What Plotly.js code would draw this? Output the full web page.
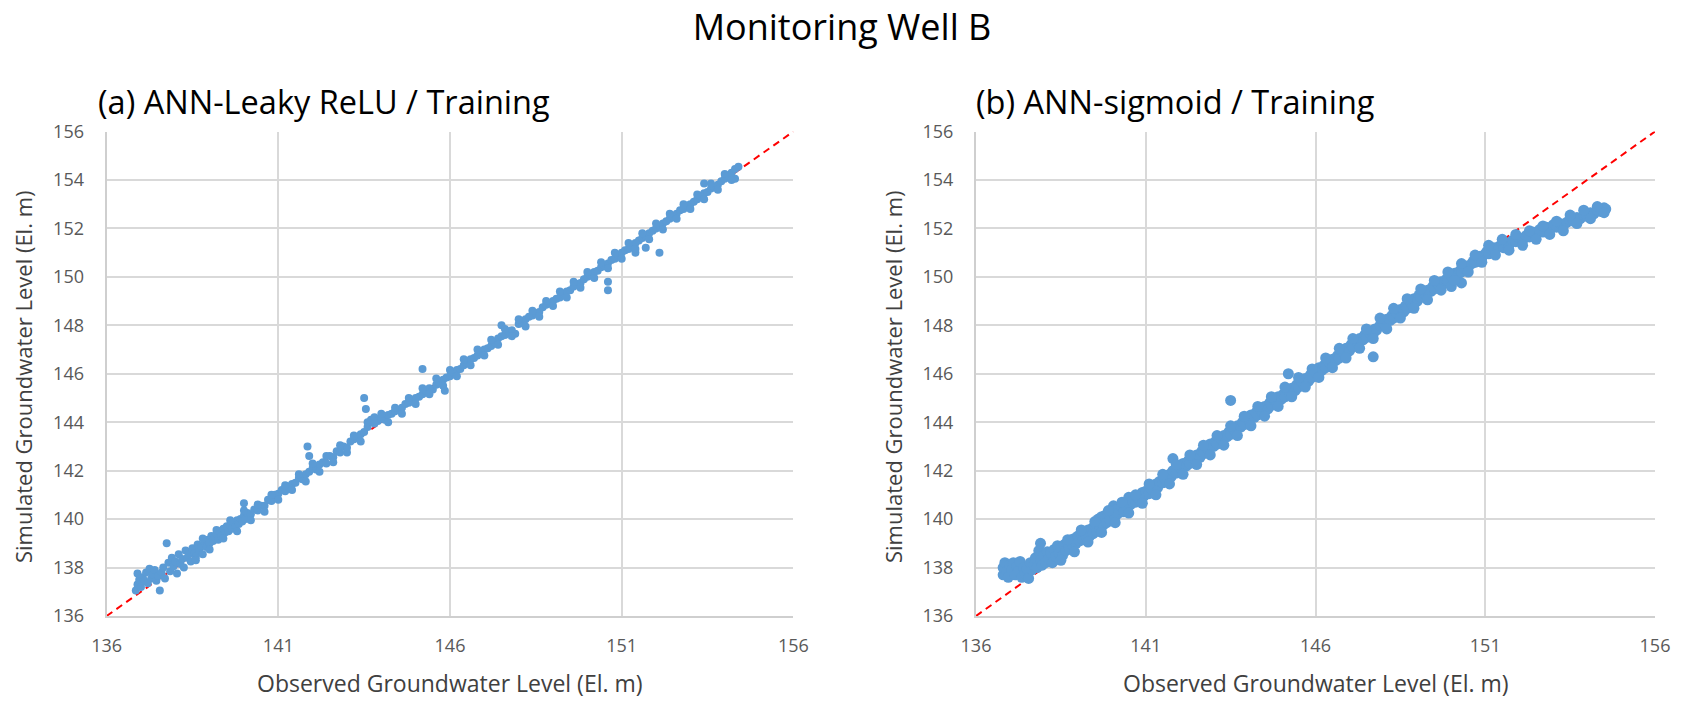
<!DOCTYPE html>
<html>
<head>
<meta charset="utf-8">
<script src="https://cdn.plot.ly/plotly-3.0.1.min.js"></script>
<style>html,body{margin:0;padding:0;background:#fff;}#chart{width:1688px;height:708px;}</style>
</head>
<body>
<div id="chart"></div>
<script>
// Panel (a) ANN-Leaky ReLU / Training : observed vs simulated
const obsA = [136.85,136.9,136.9,136.95,137.0,137.05,137.1,137.15,137.2,137.25,137.3,137.35,137.4,137.45,137.5,137.55,137.6,137.65,137.7,137.75,137.8,137.85,137.9,137.95,138.0,138.05,138.1,138.15,138.2,138.25,138.3,138.35,138.4,138.45,138.5,138.55,138.6,138.65,138.7,138.75,138.8,138.85,138.9,138.95,139.0,139.05,139.1,139.15,139.2,139.25,139.3,139.35,139.4,139.45,139.5,139.55,139.6,139.65,139.7,139.75,139.8,139.85,139.9,139.95,140.0,140.0,140.05,140.1,140.2,140.3,140.4,140.5,140.6,140.7,140.8,140.9,141.0,141.1,141.2,141.3,141.4,141.5,141.6,141.7,141.8,141.85,141.9,141.9,142.0,142.1,142.2,142.3,142.4,142.5,142.6,142.7,142.8,142.9,143.0,143.1,143.2,143.3,143.4,143.5,143.55,143.5,143.6,143.7,143.8,143.9,144.0,144.1,144.2,144.3,144.4,144.5,144.6,144.7,144.8,144.9,145.0,145.1,145.2,145.2,145.3,145.4,145.5,145.6,145.7,145.8,145.85,145.9,146.0,146.1,146.2,146.3,146.4,146.5,146.6,146.7,146.8,146.9,147.0,147.1,147.2,147.3,147.4,147.5,147.5,147.6,147.7,147.8,147.9,148.0,148.1,148.2,148.3,148.4,148.5,148.6,148.7,148.8,148.9,149.0,149.1,149.2,149.3,149.4,149.5,149.6,149.7,149.8,149.9,150.0,150.1,150.2,150.3,150.4,150.5,150.6,150.6,150.6,150.7,150.8,150.9,151.0,151.1,151.2,151.3,151.4,151.4,151.5,151.6,151.7,151.7,151.8,151.9,152.0,152.1,152.1,152.2,152.3,152.4,152.5,152.6,152.7,152.8,152.9,153.0,153.1,153.2,153.3,153.4,153.4,153.5,153.6,153.7,153.8,153.9,154.0,154.1,154.2,154.3,154.3,154.4,
  138.6,138.8,139.0,139.2,139.4,139.6,139.8,140.0,140.2,140.4,140.6,140.8,141.0,141.2,141.4,141.6,141.8,142.0,142.2,142.4,142.6,142.8,143.0,143.2,143.4,143.6,143.8,144.0,144.2,144.4,144.6,144.8,145.0,145.2,145.4,145.6,145.8,146.0,146.2,146.4,146.6,146.8,147.0,147.2,147.4,147.6,147.8,148.0,148.2,148.4,148.6,148.8,149.0,149.2,149.4,149.6,149.8,150.0,150.2,150.4,150.6,150.8,151.0,151.2,151.4,151.6,151.8,152.0,152.2,152.4,152.6,152.8,153.0,153.2,153.4,153.6,153.8,154.0,154.2];
const simA = [137.05,137.3,137.75,137.5,137.2,137.6,137.45,137.8,137.35,137.95,137.55,137.7,137.9,137.45,137.65,137.05,137.8,138.0,137.55,139.0,138.2,137.85,138.4,138.05,138.25,137.75,138.55,138.15,138.35,138.0,138.7,138.4,138.55,138.25,138.8,138.6,138.45,138.95,138.7,138.9,138.55,139.05,138.85,139.15,139.0,139.3,139.1,139.25,139.4,139.15,139.5,139.3,139.6,139.45,139.7,139.5,139.75,139.6,139.85,139.7,139.95,139.8,140.0,139.9,140.65,140.15,140.0,140.25,140.2,140.4,140.35,140.55,140.55,140.8,140.75,141.0,141.05,141.2,141.15,141.35,141.45,141.5,141.7,141.65,141.85,143.0,142.6,141.95,142.1,142.05,142.25,142.35,142.3,142.6,142.55,142.8,142.75,143.0,142.95,143.2,143.3,143.35,143.5,145.0,144.55,143.6,143.8,144.1,144.2,144.05,144.15,144.1,144.3,144.35,144.45,144.5,144.6,144.75,144.8,144.9,145.0,145.05,146.2,145.15,145.3,145.4,145.35,145.55,145.6,145.75,145.3,145.85,145.9,146.05,146.15,146.2,146.35,146.45,146.6,146.65,146.75,146.9,147.0,147.05,147.15,147.3,147.45,148.0,147.55,147.6,147.75,147.8,147.65,148.05,148.1,148.25,148.35,148.4,148.5,148.55,148.75,148.85,148.9,149.0,149.1,149.15,149.3,149.4,149.45,149.6,149.7,149.75,149.9,150.0,150.05,150.2,150.25,150.4,150.45,149.8,149.45,150.55,150.7,150.75,150.9,151.0,151.1,151.15,151.3,151.0,151.4,151.5,151.6,151.2,151.7,151.8,151.9,152.0,151.0,152.1,152.2,152.3,152.4,152.5,152.6,152.75,152.8,152.95,153.0,153.1,153.2,153.35,153.85,153.45,153.5,153.65,153.7,153.8,153.95,154.05,154.15,154.3,154.05,154.45,154.55,
  138.3,139.2,138.75,139.55,139.2,139.95,139.5,140.35,139.95,140.6,140.3,141.0,140.8,141.4,141.2,141.85,141.55,142.3,141.95,142.6,142.35,143.05,142.75,143.45,143.2,144.0,143.95,144.35,144.0,144.6,144.35,145.0,144.75,145.4,145.15,145.8,145.5,146.15,145.9,146.6,146.35,147.0,146.75,147.4,147.2,147.85,147.55,148.25,147.95,148.6,148.35,149.0,148.8,149.4,149.15,149.8,149.55,150.2,149.95,150.6,150.35,151.0,150.75,151.4,151.15,151.8,151.55,152.2,151.95,152.6,152.4,153.0,152.8,153.4,153.2,153.85,153.6,154.25,154.0];

// Panel (b) ANN-sigmoid / Training : observed vs simulated
const obsB = [136.8,136.8,136.85,136.9,136.95,137.0,137.05,137.1,137.15,137.2,137.25,137.3,137.35,137.4,137.45,137.5,137.55,137.6,137.65,137.7,137.75,137.8,137.85,137.9,137.9,137.95,138.0,138.05,138.1,138.15,138.2,138.25,138.3,138.35,138.4,138.45,138.5,138.55,138.6,138.65,138.7,138.75,138.8,138.85,138.9,138.95,139.0,139.05,139.1,139.15,139.2,139.25,139.3,139.35,139.4,139.45,139.5,139.55,139.6,139.65,139.7,139.75,139.8,139.85,139.9,139.95,140.0,140.05,140.1,140.15,140.2,140.3,140.35,140.4,140.5,140.45,140.55,140.6,140.7,140.75,140.8,140.9,140.95,141.0,141.1,141.15,141.2,141.3,141.35,141.4,141.5,141.55,141.6,141.7,141.75,141.8,141.8,141.9,142.0,142.05,142.1,142.2,142.25,142.3,142.4,142.45,142.5,142.6,142.65,142.7,142.8,142.85,142.9,143.0,143.05,143.1,143.2,143.25,143.3,143.4,143.45,143.5,143.5,143.6,143.65,143.7,143.8,143.85,143.9,144.0,144.05,144.1,144.2,144.25,144.3,144.4,144.45,144.5,144.6,144.65,144.7,144.8,144.85,144.9,145.0,145.05,145.1,145.2,145.2,145.25,145.3,145.4,145.45,145.5,145.6,145.65,145.7,145.8,145.85,145.9,146.0,146.05,146.1,146.2,146.25,146.3,146.4,146.45,146.5,146.6,146.65,146.7,146.8,146.85,146.9,147.0,147.05,147.1,147.2,147.25,147.3,147.4,147.45,147.5,147.6,147.7,147.7,147.75,147.8,147.9,148.0,148.05,148.1,148.2,148.25,148.3,148.4,148.45,148.5,148.6,148.65,148.7,148.8,148.85,148.9,149.0,149.05,149.1,149.2,149.25,149.3,149.4,149.45,149.5,149.6,149.65,149.7,149.8,149.85,149.9,150.0,150.0,150.05,150.1,150.2,150.25,150.3,150.3,150.4,150.45,150.5,150.6,150.65,150.7,150.8,150.85,150.9,151.0,151.05,151.1,151.2,151.25,151.3,151.4,151.5,151.55,151.6,151.7,151.8,151.9,152.0,152.1,152.2,152.3,152.4,152.5,152.6,152.7,152.8,152.9,153.0,153.1,153.2,153.3,153.4,153.5,153.6,153.7,153.8,153.9,154.0,154.1,154.2,154.3,154.4,154.5,154.55,
  138.5,138.7,138.9,139.1,139.3,139.5,139.7,139.9,140.1,140.3,140.5,140.7,140.9,141.1,141.3,141.5,141.7,141.9,142.1,142.3,142.5,142.7,142.9,143.1,143.3,143.5,143.7,143.9,144.1,144.3,144.5,144.7,144.9,145.1,145.3,145.5,145.7,145.9,146.1,146.3,146.5,146.7,146.9,147.1,147.3,147.5,147.7,147.9,148.1,148.3,148.5,148.7,148.9,149.1,149.3,149.5,149.7,149.9,150.1,150.3,150.5,150.7,150.9,151.1,151.3,151.5,151.7,151.9,152.1,152.3,152.5,152.7,152.9,153.1,153.3,153.5,153.7,153.9,154.1,154.3,154.5];
const simB = [137.7,138.0,138.2,137.85,137.6,138.1,137.9,138.2,137.7,138.05,137.85,138.25,137.6,138.0,137.75,137.95,137.55,138.2,137.9,138.1,138.4,138.0,138.7,139.0,138.3,138.1,138.5,138.2,138.65,138.35,138.6,138.2,138.75,138.45,138.9,138.6,138.8,138.5,138.95,138.7,139.05,138.8,139.15,138.9,139.2,139.0,139.3,139.1,139.4,139.15,139.45,139.25,139.55,139.3,139.6,139.4,139.75,139.5,140.0,139.6,140.1,139.75,140.15,139.85,140.2,139.95,140.3,140.55,140.1,140.4,140.25,140.5,140.3,140.6,140.9,140.45,140.6,140.75,140.7,140.9,140.85,141.1,140.95,141.15,141.05,141.3,141.2,141.45,141.3,141.55,141.5,141.7,141.6,141.85,141.75,142.5,142.0,141.9,142.15,142.05,142.3,142.2,142.4,142.3,142.55,142.45,142.65,142.55,142.8,142.7,142.95,142.85,143.1,143.0,143.2,143.1,143.35,143.25,143.45,143.4,143.6,144.9,143.5,143.7,143.6,143.85,143.8,144.0,143.9,144.15,144.05,144.3,144.2,144.4,144.3,144.5,144.4,144.65,144.55,144.8,144.7,144.9,144.8,145.05,144.95,145.15,145.05,146.0,145.3,145.15,145.4,145.3,145.55,145.45,145.65,145.55,145.8,145.7,145.95,145.85,146.1,145.95,146.25,146.15,146.35,146.25,146.5,146.4,146.6,146.55,146.75,146.65,146.9,146.8,147.05,146.95,147.2,147.1,147.35,147.25,147.45,147.4,147.6,147.5,147.7,146.7,147.65,147.85,147.8,148.0,148.1,148.0,148.25,148.2,148.4,148.3,148.5,148.45,148.65,148.55,148.8,148.7,148.95,148.85,149.1,149.0,149.25,149.15,149.35,149.25,149.45,149.4,149.6,149.5,149.7,149.6,149.8,149.75,149.9,149.85,150.05,149.6,149.95,150.15,150.1,150.25,149.75,150.2,150.35,150.45,150.4,150.55,150.65,150.6,150.75,150.85,150.8,150.95,151.05,150.95,151.1,151.2,151.1,151.25,151.35,151.2,151.4,151.3,151.5,151.45,151.6,151.5,151.7,151.65,151.85,151.75,151.95,151.85,152.05,151.95,152.15,152.05,152.2,152.1,152.25,152.35,152.3,152.45,152.4,152.55,152.5,152.65,152.6,152.75,152.7,152.85,152.8,
  138.3,139.15,138.65,139.55,139.05,139.9,139.45,140.35,139.85,140.7,140.25,141.0,140.65,141.45,141.0,141.85,141.45,142.25,141.85,142.65,142.25,143.05,142.65,143.45,143.05,143.85,143.45,144.25,143.85,144.65,144.25,145.05,144.65,145.45,145.05,145.85,145.45,146.2,145.85,146.65,146.25,147.05,146.65,147.45,147.05,147.85,147.45,148.3,147.85,148.7,148.3,149.1,148.7,149.5,149.05,149.85,149.45,150.2,149.85,150.55,150.2,150.9,150.6,151.3,150.9,151.55,151.1,151.75,151.3,151.9,151.55,152.1,151.75,152.3,151.9,152.55,152.2,152.75,152.4,152.9,152.65];

// 1:1 reference line
const lineX = [136, 156];
const lineY = [136, 156];

// Axis ticks and text
const xTicks = [136, 141, 146, 151, 156];
const yTicks = [136, 138, 140, 142, 144, 146, 148, 150, 152, 154, 156];
const mainTitle = 'Monitoring Well B';
const panelTitles = ['(a) ANN-Leaky ReLU / Training', '(b) ANN-sigmoid / Training'];
const xTitle = 'Observed Groundwater Level (El. m)';
const yTitle = 'Simulated Groundwater Level (El. m)';

const W = 1688, H = 708;
const FONT = '"Open Sans", Lato, sans-serif';
const BLUE = '#5B9BD5';

function px(x) { return x / W; }
function py(y) { return (H - y) / H; }

const traces = [
  {x: lineX, y: lineY, xaxis: 'x', yaxis: 'y', mode: 'lines', line: {color: '#FF0000', width: 2, dash: '7px,5px'}, hoverinfo: 'skip'},
  {x: obsA, y: simA, xaxis: 'x', yaxis: 'y', mode: 'markers', marker: {color: BLUE, size: 8, line: {width: 0}}},
  {x: lineX, y: lineY, xaxis: 'x2', yaxis: 'y2', mode: 'lines', line: {color: '#FF0000', width: 2, dash: '7px,5px'}, hoverinfo: 'skip'},
  {x: obsB, y: simB, xaxis: 'x2', yaxis: 'y2', mode: 'markers', marker: {color: BLUE, size: 11, line: {width: 0}}}
];

const xBase = {
  range: [136, 156], tickmode: 'array', tickvals: xTicks, ticktext: xTicks.map(String),
  showgrid: true, gridcolor: '#d9d9d9', gridwidth: 2, zeroline: false,
  showline: true, linecolor: '#cfcfcf', linewidth: 2, ticks: '', ticklabelstandoff: 12,
  tickfont: {family: FONT, size: 18, color: '#595959'}, fixedrange: true
};
const yBase = {
  range: [136, 156], tickmode: 'array', tickvals: yTicks, ticktext: yTicks.map(String),
  showgrid: true, gridcolor: '#d9d9d9', gridwidth: 2, zeroline: false,
  showline: true, linecolor: '#cfcfcf', linewidth: 2, ticks: '', ticklabelstandoff: 17,
  tickfont: {family: FONT, size: 18, color: '#595959'}, fixedrange: true,
  domain: [py(616), py(131.5)]
};

const layout = {
  width: W, height: H,
  margin: {l: 0, r: 0, t: 0, b: 0, pad: 0},
  paper_bgcolor: '#ffffff', plot_bgcolor: '#ffffff',
  showlegend: false,
  title: {text: mainTitle, x: px(842), xanchor: 'center', y: py(27), yanchor: 'middle', yref: 'container',
          font: {family: FONT, size: 36, color: '#000000'}},
  xaxis: Object.assign({}, xBase, {domain: [px(106.6), px(793.4)], anchor: 'y'}),
  yaxis: Object.assign({}, yBase, {anchor: 'x'}),
  xaxis2: Object.assign({}, xBase, {domain: [px(976), px(1655)], anchor: 'y2'}),
  yaxis2: Object.assign({}, yBase, {anchor: 'x2'}),
  annotations: [
    {text: panelTitles[0], xref: 'paper', yref: 'paper', x: px(96), y: py(102), xanchor: 'left', yanchor: 'middle', showarrow: false,
     font: {family: FONT, size: 32.5, color: '#000000'}},
    {text: panelTitles[1], xref: 'paper', yref: 'paper', x: px(974), y: py(102), xanchor: 'left', yanchor: 'middle', showarrow: false,
     font: {family: FONT, size: 32.5, color: '#000000'}},
    {text: xTitle, xref: 'paper', yref: 'paper', x: px(450), y: py(683), xanchor: 'center', yanchor: 'middle', showarrow: false,
     font: {family: FONT, size: 23, color: '#404040'}},
    {text: xTitle, xref: 'paper', yref: 'paper', x: px(1316), y: py(683), xanchor: 'center', yanchor: 'middle', showarrow: false,
     font: {family: FONT, size: 23, color: '#404040'}},
    {text: yTitle, xref: 'paper', yref: 'paper', x: px(23), y: py(377), xanchor: 'center', yanchor: 'middle', textangle: -90, showarrow: false,
     font: {family: FONT, size: 22, color: '#404040'}},
    {text: yTitle, xref: 'paper', yref: 'paper', x: px(893), y: py(377), xanchor: 'center', yanchor: 'middle', textangle: -90, showarrow: false,
     font: {family: FONT, size: 22, color: '#404040'}}
  ]
};

Plotly.newPlot('chart', traces, layout, {displayModeBar: false, staticPlot: true});
</script>
</body>
</html>
